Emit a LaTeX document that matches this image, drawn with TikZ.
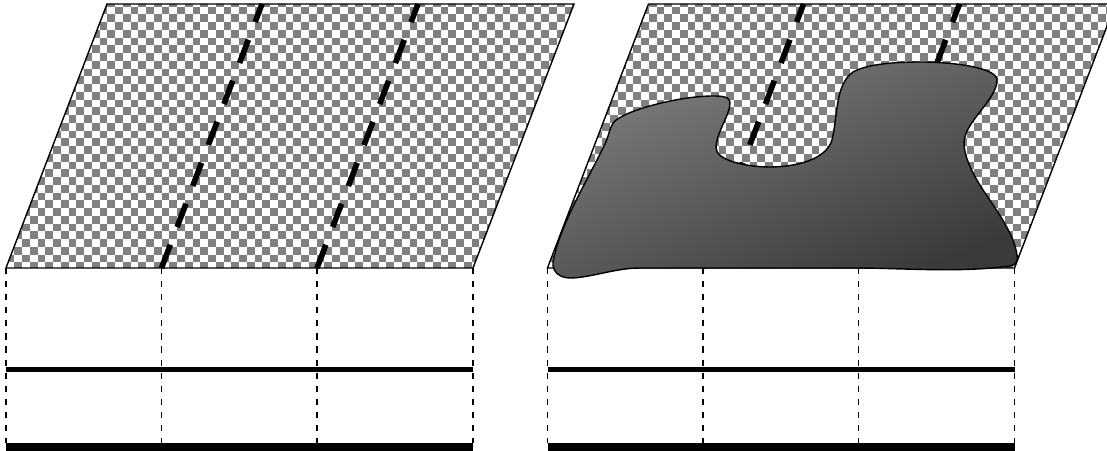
\documentclass[tikz,border=0pt]{standalone}
\usepackage{xcolor}
\definecolor{checkGray}{RGB}{128,128,128}
\definecolor{blobLight}{RGB}{125,125,125}
\definecolor{blobDark}{RGB}{58,58,58}
\newcommand{\PanneauDamier}{%
  \begin{scope}
    \clip (6,268)--(473,268)--(574,4)--(107,4)--cycle;
    \foreach \j in {0,...,35}
      \foreach \i in {0,...,37}
        \fill[checkGray] ({-1.25+15.5*\i+7.75*mod(\j,2)},{-1+7.75*\j}) rectangle +(7.75,7.75);
  \end{scope}
  \draw[outlineLine] (6,268)--(473,268)--(574,4)--(107,4)--cycle;
  \draw[crestLine] (161.5,268)--(262,4);
  \draw[crestLine] (317,268)--(418,4);
}
\newcommand{\PanneauCoupe}{%
  \foreach \x in {6,161.5,317,473}
    \draw[guideLine] (\x,268)--(\x,443);
  \draw[midLine] (6,369.7)--(473,369.7);
  \fill[black] (6,442.7) rectangle (473,450.7);
}
\tikzset{
  outlineLine/.style={black,line width=1pt},
  crestLine/.style={black,line width=4pt,dash pattern=on 17.7pt off 13.5pt},
  guideLine/.style={black,line width=1pt,dash pattern=on 4.4pt off 4.9pt},
  midLine/.style={black,line width=3.3pt}
}
\begin{document}
\begin{tikzpicture}[x=0.025cm,y=-0.025cm]
  \useasboundingbox (0,0) rectangle (1107,451);
  \PanneauDamier
  \PanneauCoupe
  \begin{scope}[xshift=541.5*0.025cm]
    \PanneauDamier
    \PanneauCoupe
  \end{scope}
  \draw[outlineLine,top color=blobLight,bottom color=blobDark,shading angle=22]
    (553,262) .. controls (552,272) and (560,278) .. (570,278)
    .. controls (590,278) and (615,268) .. (640,268)
    -- (857,268)
    .. controls (900,268) and (960,273) .. (1010,266)
    .. controls (1016,265) and (1018,262) .. (1017,255)
    .. controls (1014,235) and (1000,215) .. (985,193)
    .. controls (973,175) and (964,157) .. (964,143)
    .. controls (964,122) and (997,100) .. (997,80)
    .. controls (997,68) and (955,62) .. (920,62)
    .. controls (890,62) and (865,65) .. (853,72)
    .. controls (835,85) and (838,115) .. (832,140)
    .. controls (826,160) and (795,167) .. (770,167)
    .. controls (745,167) and (716,160) .. (716,148)
    .. controls (716,133) and (730,115) .. (730,103)
    .. controls (730,96) and (720,96) .. (713,96)
    .. controls (680,96) and (625,110) .. (614,122)
    .. controls (608,130) and (610,135) .. (603,148)
    .. controls (585,185) and (560,225) .. (553,262) -- cycle;
\end{tikzpicture}
\end{document}
